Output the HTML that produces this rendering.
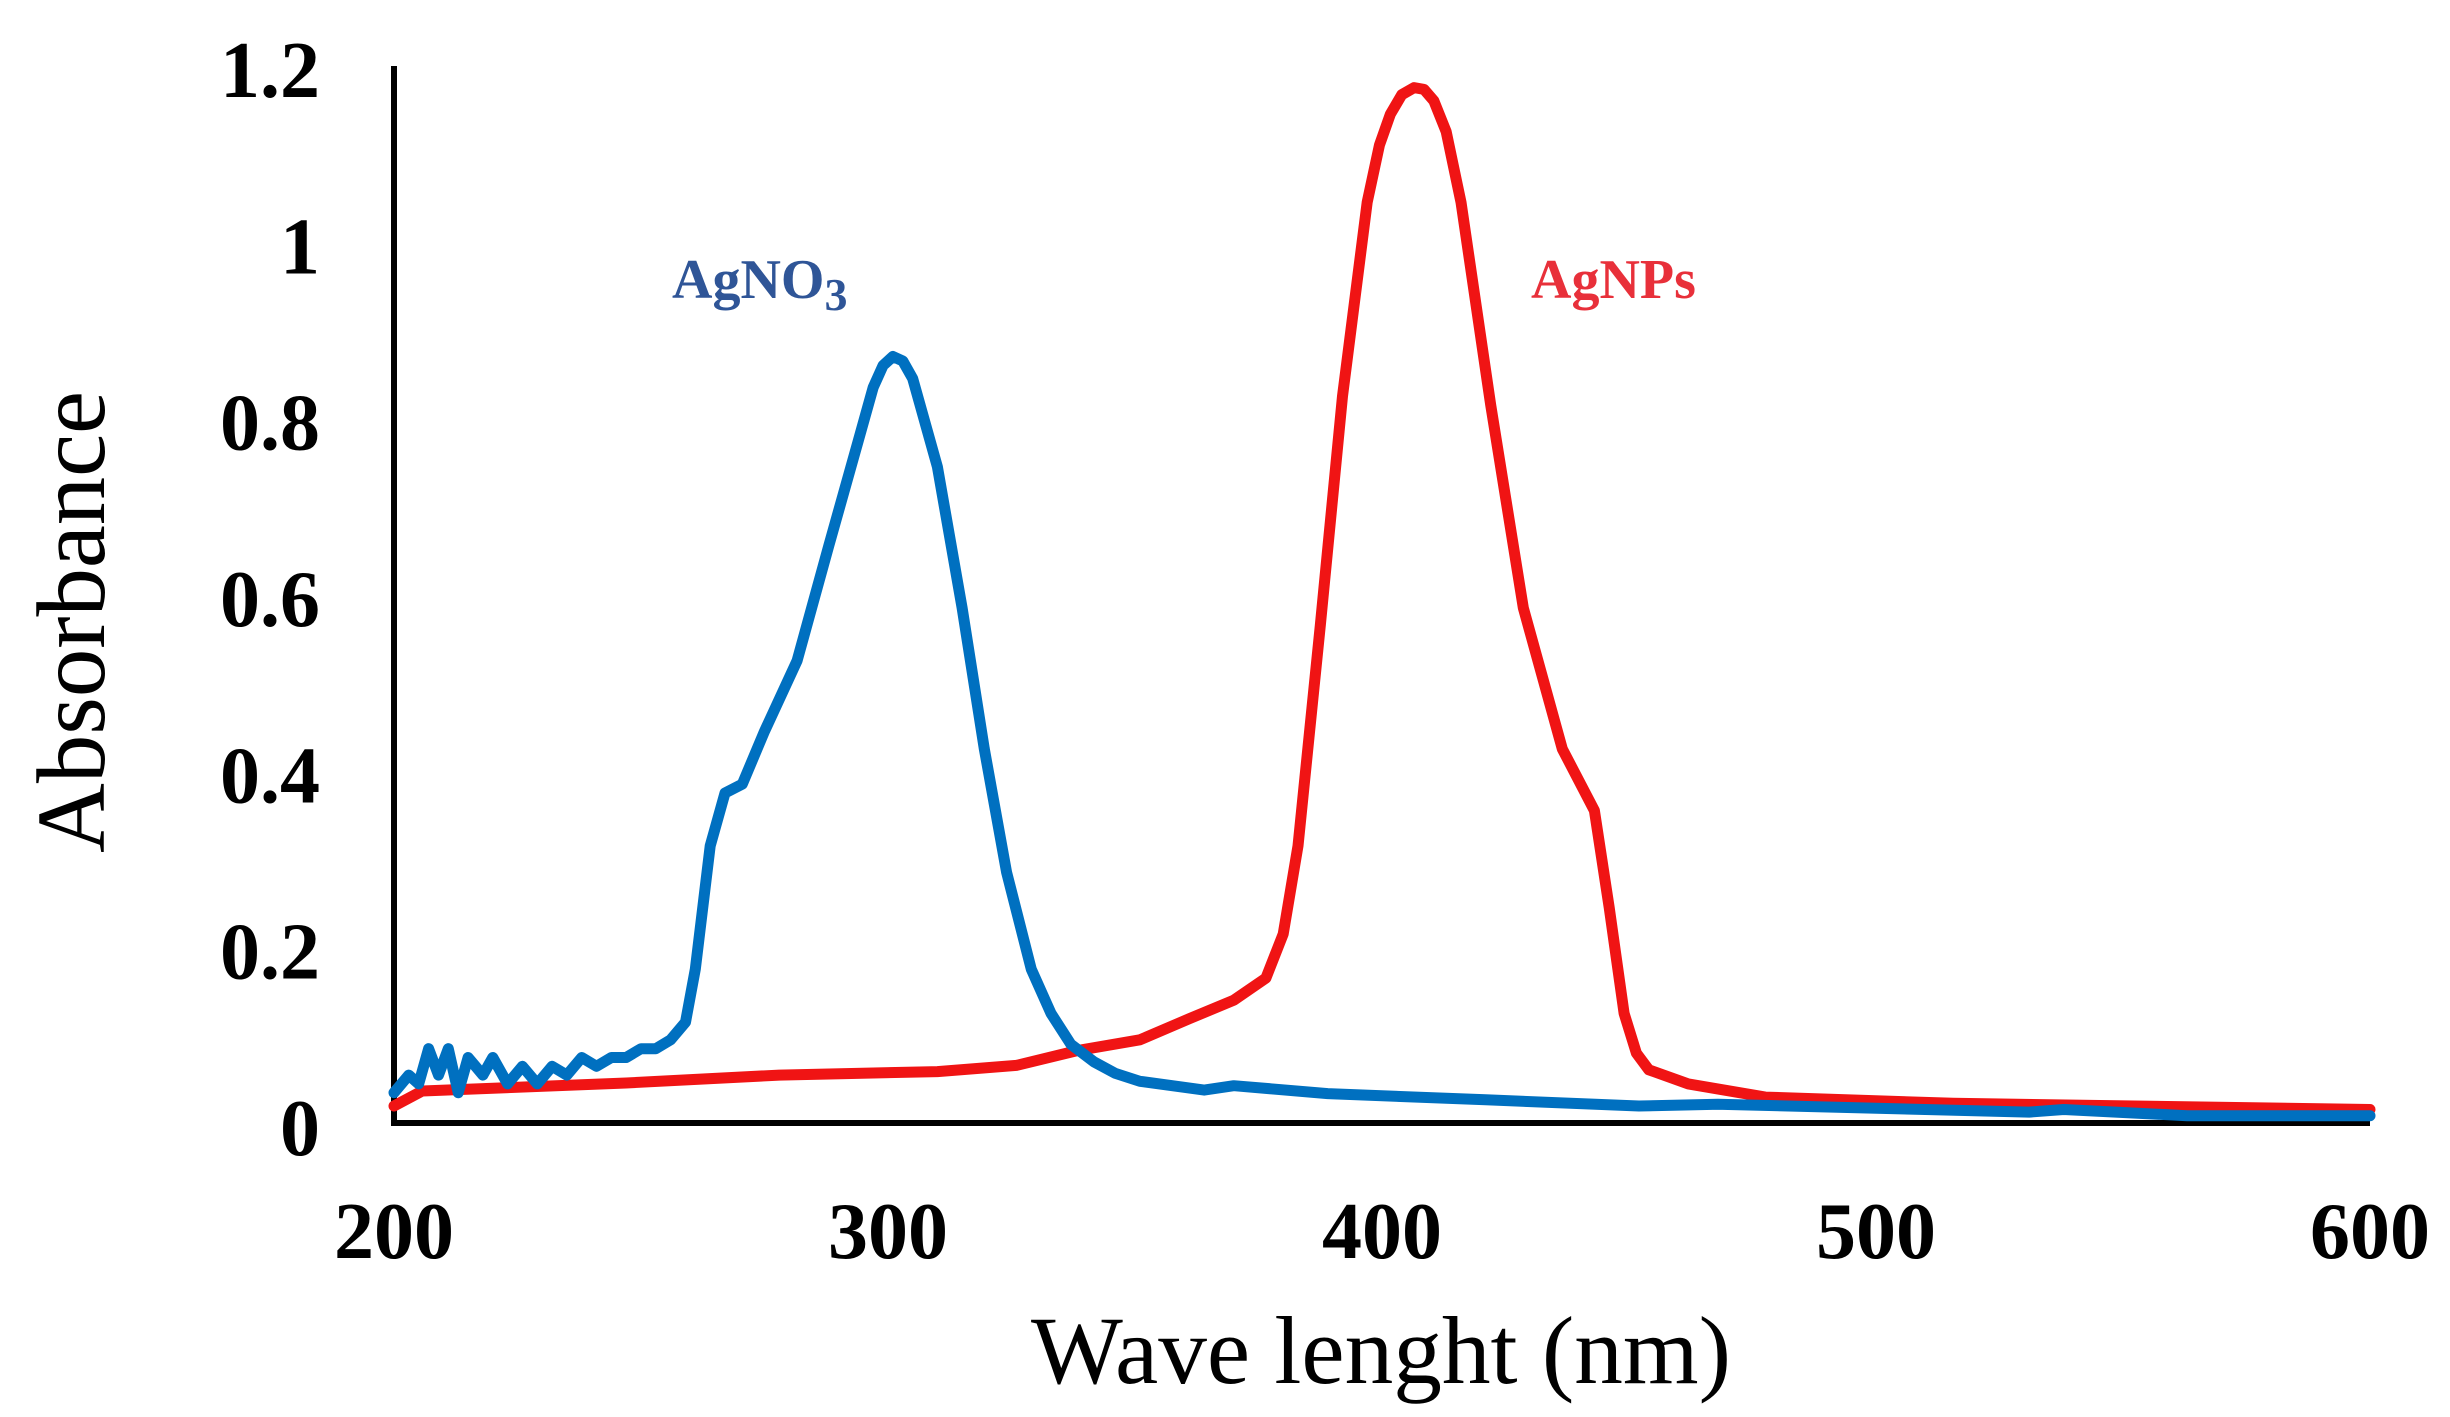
<!DOCTYPE html>
<html><head><meta charset="utf-8"><style>
html,body{margin:0;padding:0;background:#fff;}
svg{display:block;}
text{font-family:"Liberation Serif",serif;}
</style></head><body>
<svg id="chart" width="2450" height="1417" viewBox="0 0 2450 1417" xmlns="http://www.w3.org/2000/svg">
<g id="axes"></g>
<g id="series"></g>
<text x="0" y="0" transform="translate(104,622) rotate(-90)" text-anchor="middle" font-size="98" textLength="462" lengthAdjust="spacingAndGlyphs">Absorbance</text>
<text x="1381" y="1383" text-anchor="middle" font-size="96" textLength="700" lengthAdjust="spacingAndGlyphs">Wave lenght (nm)</text>
<text x="672" y="298" font-size="56" font-weight="bold" fill="#2F5597">AgNO<tspan font-size="46" dy="12">3</tspan></text>
<text x="1531" y="298" font-size="56" font-weight="bold" fill="#E8303A">AgNPs</text>
</svg>
<script>
const xTicks = [200, 300, 400, 500, 600];
const yTicks = [0, 0.2, 0.4, 0.6, 0.8, 1, 1.2];
const yTickLabels = ["0", "0.2", "0.4", "0.6", "0.8", "1", "1.2"];
const agno3X = [200,203,205,207,209,211,213,215,218,220,223,226,229,232,235,238,241,244,247,250,253,256,259,261,264,267,270.5,275,281.6,288,294,297,299,301,303,305,310,315,319.5,324,329,333,337,341.7,346,351,364,370,389,421,452,468,531,538,563,600];
const agno3Y = [0.04,0.06,0.05,0.09,0.06,0.09,0.04,0.08,0.06,0.08,0.05,0.07,0.05,0.07,0.06,0.08,0.07,0.08,0.08,0.09,0.09,0.1,0.12,0.18,0.32,0.38,0.39,0.45,0.53,0.66,0.78,0.84,0.865,0.875,0.87,0.85,0.75,0.59,0.43,0.29,0.18,0.13,0.095,0.075,0.062,0.053,0.043,0.048,0.039,0.032,0.025,0.027,0.018,0.021,0.014,0.014];
const agnpsX = [200,205.7,247,278,310,326,338.5,351,361,370,376.5,380,383,387.5,392,397,399.5,401.7,404,406.5,408.5,410.5,413,416,422,428.6,436.5,443,446,449,451.5,454,462,477.6,515.6,600];
const agnpsY = [0.025,0.042,0.051,0.06,0.064,0.071,0.088,0.1,0.124,0.145,0.17,0.22,0.32,0.57,0.83,1.05,1.115,1.15,1.172,1.18,1.178,1.165,1.13,1.05,0.82,0.59,0.43,0.36,0.25,0.13,0.085,0.066,0.05,0.035,0.028,0.021];

const NS = "http://www.w3.org/2000/svg";
const x0 = 394, x1 = 2370, y0 = 1128, y1 = 70;
function sx(v){ return x0 + (v - 200) / 400 * (x1 - x0); }
function sy(v){ return y0 - v / 1.2 * (y0 - y1); }
function mk(tag, attrs, parent){
  const e = document.createElementNS(NS, tag);
  for (const k in attrs) e.setAttribute(k, attrs[k]);
  parent.appendChild(e);
  return e;
}
const axes = document.getElementById('axes');
const yAxis = mk('line', {x1: x0, y1: 66, x2: x0, y2: 1126, stroke: '#000', 'stroke-width': 6}, axes);


const xAxis = mk('line', {x1: x0 - 3, y1: 1123, x2: x1, y2: 1123, stroke: '#000', 'stroke-width': 6}, axes);


yTicks.forEach((t, i) => {
  const el = mk('text', {x: 320, y: sy(t) + 27, 'text-anchor': 'end', 'font-size': 80, 'font-weight': 'bold'}, axes);
  el.textContent = yTickLabels[i];
  
  
});
xTicks.forEach(t => {
  const el = mk('text', {x: sx(t), y: 1258, 'text-anchor': 'middle', 'font-size': 80, 'font-weight': 'bold'}, axes);
  el.textContent = String(t);
  
  
});
const series = document.getElementById('series');
function drawLine(xs, ys, color, name){
  const d = xs.map((v, i) => (i ? 'L' : 'M') + sx(v).toFixed(1) + ',' + sy(ys[i]).toFixed(1)).join(' ');
  const p = mk('path', {d: d, fill: 'none', stroke: color, 'stroke-width': 11, 'stroke-linejoin': 'round', 'stroke-linecap': 'round'}, series);
  
  
}
drawLine(agnpsX, agnpsY, '#F01414', 'agnps-line');
drawLine(agno3X, agno3Y, '#0070C0', 'agno3-line');
</script>
</body></html>
